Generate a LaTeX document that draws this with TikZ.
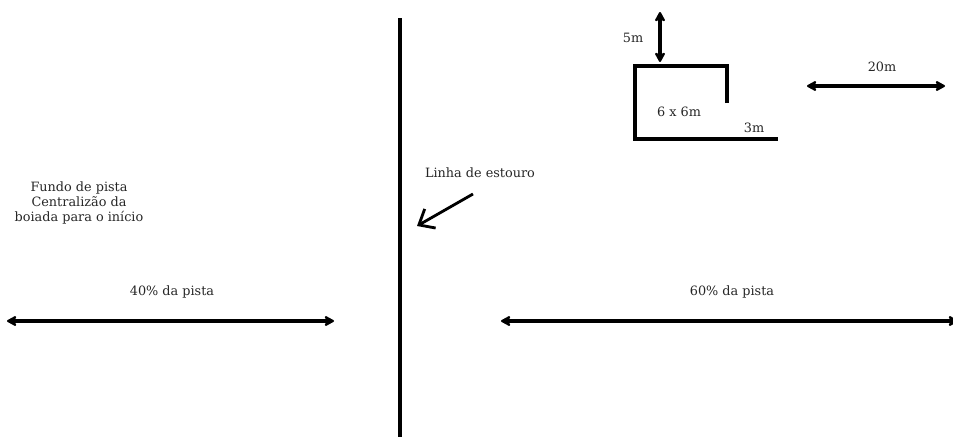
\documentclass[tikz,border=0pt]{standalone}
\usepackage{fontspec}
\setmainfont{DejaVu Serif}
\usetikzlibrary{arrows.meta}

\tikzset{
  medida/.style={line width=2.2pt, {Stealth[length=2.4mm,width=2.6mm,round]}-{Stealth[length=2.4mm,width=2.6mm,round]}},
  parede/.style={line width=2.8pt},
}

\begin{document}
\begin{tikzpicture}[x=0.02cm,y=-0.02cm]

      \useasboundingbox (0,0) rectangle (953,436);

      \begin{scope}[every node/.style={font=\fontsize{7.3}{8.6}\selectfont, inner sep=0pt, text=black!85}]
        \node (fundo)    at (79,203)  [align=center] {Fundo de pista\\Centralizão da\\boiada para o início};
        \node (estouro)  at (480,173) {Linha de estouro};
        \node (p40)      at (172,292) {40\% da pista};
        \node (p60)      at (732,292) {60\% da pista};
        \node (cinco)    at (633,38)  {5m};
        \node (vinte)    at (882,67)  {20m};
        \node (area)     at (679,112) {6 x 6m};
        \node (tres)     at (754,128) {3m};
      \end{scope}

      % linha de estouro
      \coordinate (l1) at (400,18);
      \coordinate (l2) at (400,440);
      \draw[line width=2.4pt] (l1) -- (l2);

      % curral
      \coordinate (c1) at (727,103);
      \coordinate (c2) at (727,66);
      \coordinate (c3) at (635,66);
      \coordinate (c4) at (635,139);
      \coordinate (c5) at (778,139);
      \draw[parede] (c1) -- (c2) -- (c3) -- (c4) -- (c5);

      % medidas
      \coordinate (a1) at (660,12);
      \coordinate (a2) at (660,62);
      \coordinate (b1) at (807,86);
      \coordinate (b2) at (945,86);
      \coordinate (e1) at (7,321);
      \coordinate (e2) at (334,321);
      \coordinate (d1) at (501,321);
      \coordinate (d2) at (958,321);
      \draw[medida] (a1) -- (a2);
      \draw[medida] (b1) -- (b2);
      \draw[medida] (e1) -- (e2);
      \draw[medida] (d1) -- (d2);

      % seta
      \coordinate (s1) at (473,194);
      \coordinate (s2) at (417,226);
      \draw[line width=1.6pt, -{Straight Barb[length=2.6mm,width=4.4mm]}] (s1) -- (s2);

    \end{tikzpicture}
\end{document}
